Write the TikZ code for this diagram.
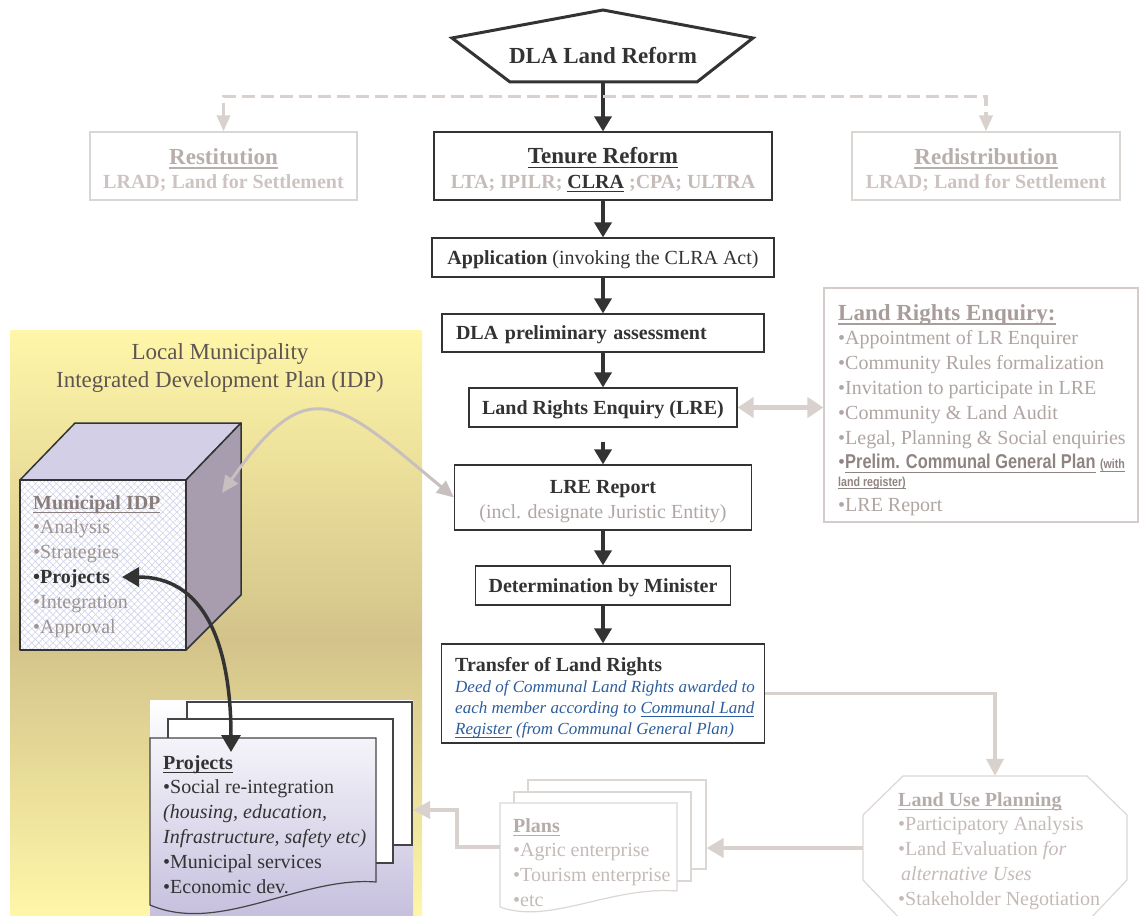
\documentclass[tikz,border=0pt]{standalone}
\usepackage{fontspec}
\setmainfont{Liberation Serif}
\newfontfamily\narrowsf[FakeStretch=0.82]{Liberation Sans}
\newcommand\uline[1]{\leavevmode\setbox0\hbox{#1}\rlap{\rule[-0.2em]{\wd0}{0.07em}}\box0\relax}
\usetikzlibrary{arrows.meta,patterns.meta,calc}
\definecolor{dk}{HTML}{333333}
\definecolor{lbord}{HTML}{DCD6D3}
\definecolor{restT}{HTML}{B8AEAB}
\definecolor{restS}{HTML}{CDC4C1}
\definecolor{tenS}{HTML}{C5BCB9}
\definecolor{lreB}{HTML}{D3CCC9}
\definecolor{lreT}{HTML}{A89D9A}
\definecolor{lreL}{HTML}{AFA5A2}
\definecolor{lreP}{HTML}{8F8482}
\definecolor{gArr}{HTML}{D8D1CE}
\definecolor{curveC}{HTML}{C8BFBF}
\definecolor{ylw}{HTML}{FFF6A8}
\definecolor{khk}{HTML}{D3C38A}
\definecolor{ttl}{HTML}{5E5553}
\definecolor{cubetop}{HTML}{D2CFE6}
\definecolor{cubeside}{HTML}{A79DAF}
\definecolor{hatch}{HTML}{CFD2EA}
\definecolor{idpT}{HTML}{8A7E7C}
\definecolor{idpL}{HTML}{9E9492}
\definecolor{lav}{HTML}{C6C0DE}
\definecolor{blu}{HTML}{2C5E9E}
\definecolor{pageL}{HTML}{444444}
\definecolor{lupB}{HTML}{DDD7D4}
\definecolor{lupT}{HTML}{B6ACA9}
\definecolor{lupL}{HTML}{C4BBB8}
\definecolor{juris}{HTML}{B0A6A3}
\newcommand\fA{\fontsize{20}{24.8}\selectfont}
\newcommand\fB{\fontsize{23}{28}\selectfont}
\newcommand\fC{\fontsize{17}{21}\selectfont}
\begin{document}
\begin{tikzpicture}[x=1pt,y=-1pt,
  box/.style={draw=dk, line width=1.2pt, fill=white, inner sep=0pt, align=center, text=dk, font=\fA},
  one/.style={text height=15pt, text depth=1.8pt},
  lbox/.style={draw=lbord, line width=1.2pt, fill=white, inner sep=0pt, align=center, font=\fA},
  ctxt/.style={inner sep=0pt, align=center, font=\fA},
  flow/.style={draw=dk, line width=3.5pt, -{Triangle[width=17pt,length=15pt]}},
  dashc/.style={draw=gArr, line width=3.5pt, dash pattern=on 13pt off 6pt, {Triangle[width=13pt,length=16pt]}-{Triangle[width=13pt,length=16pt]}},
  garrow/.style={draw=gArr, line width=3.5pt, -{Triangle[width=17pt,length=17pt]}},
  dblg/.style={draw=gArr, line width=5pt, {Triangle[width=20pt,length=16pt]}-{Triangle[width=20pt,length=16pt]}},
  curveg/.style={draw=curveC, line width=3pt, {Triangle[width=15pt,length=17pt]}-{Triangle[width=15pt,length=17pt]}},
  curvek/.style={draw=dk, line width=3.5pt, {Triangle[width=19pt,length=17pt]}-{Triangle[width=19pt,length=17pt]}},
  page/.style={draw=pageL, line width=1.2pt, fill=white, inner sep=0pt},
  lpage/.style={draw=lupB, line width=1.2pt, fill=white, inner sep=0pt},
  txt/.style={anchor=north west, inner sep=0pt, align=left, font=\fA},
  cubeline/.style={draw=dk, line width=1.5pt, line join=round}
]
\useasboundingbox (0,0) rectangle (1139,915);
\fill[white] (0,0) rectangle (1139,915);

% ---------- yellow panel ----------
\shade[top color=ylw, bottom color=khk] (10,330) rectangle (422,640);
\shade[top color=khk, bottom color=ylw] (10,640) rectangle (422,915);
\node[font=\fB, text=ttl, align=center, inner sep=0pt] (lmtitle) at (220,368) {Local Municipality\\Integrated Development Plan (IDP)};

% ---------- cube ----------
\draw[cubeline, fill=cubetop] (20,480) -- (75,423) -- (241,423) -- (186,480) -- cycle;
\draw[cubeline, fill=cubeside] (186,480) -- (241,423) -- (241,595) -- (186,650) -- cycle;
\fill[white] (20,480) rectangle (186,650);
\fill[pattern={Lines[angle=45,distance=5pt,line width=0.6pt]}, pattern color=hatch] (20,480) rectangle (186,650);
\fill[pattern={Lines[angle=-45,distance=5pt,line width=0.6pt]}, pattern color=hatch] (20,480) rectangle (186,650);
\node[cubeline, inner sep=0pt, minimum width=166, minimum height=170] (cubefront) at (103,565) {};
\coordinate (cubeside) at (222,493);
\node[txt, text=idpL] (idptext) at (33,495) {{\bfseries\color{idpT}\uline{Municipal IDP}}\\{\textbullet}Analysis\\{\textbullet}Strategies\\{\color{dk}\bfseries {\textbullet}Projects}\\{\textbullet}Integration\\{\textbullet}Approval};
\coordinate (projbullet) at (122,577);

% ---------- projects stack ----------
\shade[top color=white, bottom color=lav] (150,700) rectangle (413,915);
\node[page, minimum width=225, minimum height=143] (projback) at (299.5,773.5) {};
\node[page, minimum width=225, minimum height=144] (projmid) at (280.5,791) {};
\begin{scope}
  \clip (150,738) -- (376,738) -- (376,882) .. controls (300,876) and (220,935) .. (150,905) -- cycle;
  \shade[top color=white, bottom color=lav] (150,700) rectangle (413,915);
\end{scope}
\draw[draw=pageL, line width=1.2pt] (150,738) -- (376,738) -- (376,882) .. controls (300,876) and (220,935) .. (150,905) -- cycle;
\node[inner sep=0pt, minimum width=226, minimum height=170] (projfront) at (263,823) {};
\coordinate (projtop) at (231,752);
\coordinate (projin) at (413,810);
\node[txt, text=dk] (projtext) at (163,755) {{\bfseries\uline{Projects}}\\{\textbullet}Social re-integration\\\textit{(housing, education,}\\\textit{Infrastructure, safety etc)}\\{\textbullet}Municipal services\\{\textbullet}Economic dev.};

% ---------- plans stack ----------
\node[lpage, minimum width=178, minimum height=89] (plansback) at (617,824.5) {};
\node[lpage, minimum width=177, minimum height=89] (plansmid) at (602.5,836.5) {};
\draw[draw=lupB, line width=1.2pt, fill=white] (500,803) -- (677,803) -- (677,891) .. controls (610,886) and (550,925) .. (500,907) -- cycle;
\node[inner sep=0pt, minimum width=177, minimum height=104] (plansfront) at (588.5,855) {};
\node[txt, text=lupL] (planstext) at (513,818) {{\bfseries\color{lupT}\uline{Plans}}\\{\textbullet}Agric enterprise\\{\textbullet}Tourism enterprise\\{\textbullet}etc};

% ---------- land use planning ----------
\draw[draw=lupB, line width=1.2pt, fill=white] (903,776) -- (1087,776) -- (1127,815) -- (1127,880) -- (1087,922) -- (903,922) -- (863,880) -- (863,815) -- cycle;
\node[inner sep=0pt, minimum width=264, minimum height=144] (lup) at (995,848) {};
\node[txt, text=lupL] (luptext) at (898,792) {{\bfseries\color{lupT}\uline{Land Use Planning}}\\{\textbullet}Participatory Analysis\\{\textbullet}Land Evaluation \textit{for}\\\hspace*{3pt}\textit{alternative Uses}\\{\textbullet}Stakeholder Negotiation};

% ---------- top ----------
\draw[draw=dk, line width=3pt, line join=miter, fill=white] (603,10) -- (753,38) -- (697,82) -- (510,82) -- (452,38) -- cycle;
\node[font=\fB\bfseries, text=dk, inner sep=0pt] (dla) at (603,56) {DLA Land Reform};
\coordinate (dlabot) at (603,82);

\node[box, minimum width=338, minimum height=68] (tenure) at (603,166) {};
\node[ctxt, text=dk] (tenuretxt) at (603,170) {{\fB\bfseries\uline{Tenure Reform}}\\{\bfseries\color{tenS}LTA; IPILR; }{\bfseries\color{dk}\uline{CLRA}}{\bfseries\color{tenS}\ ;CPA; ULTRA}};
\node[lbox, minimum width=267, minimum height=68] (restit) at (223.5,166) {};
\node[ctxt] (restittxt) at (223.5,170) {{\fB\bfseries\color{restT}\uline{Restitution}}\\{\bfseries\color{restS}LRAD; Land for Settlement}};
\node[lbox, minimum width=268, minimum height=68] (redis) at (986,166) {};
\node[ctxt] (redistxt) at (986,170) {{\fB\bfseries\color{restT}\uline{Redistribution}}\\{\bfseries\color{restS}LRAD; Land for Settlement}};

% ---------- main flow ----------
\node[box, one, minimum width=342, minimum height=39] (app) at (603,257.5) {\textbf{Application} (invoking the CLRA Act)};
\node[box, one, text width=294, inner xsep=14pt, align=left, minimum height=38] (prelim) at (603,333) {\bfseries DLA preliminary assessment};
\node[box, one, minimum width=268, minimum height=39] (lre) at (603,407.5) {\bfseries Land Rights Enquiry (LRE)};
\node[box, minimum width=297, minimum height=65] (lrerep) at (603,497.5) {};
\node[ctxt, text=dk] (lrereptxt) at (603,502) {\textbf{LRE Report}\\{\color{juris}(incl. designate Juristic Entity)}};
\node[box, one, minimum width=255, minimum height=39] (det) at (603,585.5) {\bfseries Determination by Minister};
\node[box, minimum width=323, minimum height=99] (transfer) at (603,693.5) {};
\node[txt, font=\fC\itshape, text=blu] (transtext) at (455,657) {{\fA\upshape\bfseries\color{dk}Transfer of Land Rights}\\Deed of Communal Land Rights awarded to\\each member according to \uline{Communal Land}\\\uline{Register} (from Communal General Plan)};

% ---------- LRE box (right) ----------
\node[draw=lreB, line width=1.2pt, fill=white, inner sep=0pt, minimum width=314, minimum height=234] (lrebox) at (981,405) {};
\node[txt, text=lreL] (lretext) at (838,304) {{\fB\bfseries\color{lreT}\uline{Land Rights Enquiry:}}\\{\textbullet}Appointment of LR Enquirer\\{\textbullet}Community Rules formalization\\{\textbullet}Invitation to participate in LRE\\{\textbullet}Community \& Land Audit\\{\textbullet}Legal, Planning \& Social enquiries\\{\color{lreP}{\textbullet}\narrowsf\bfseries\uline{Prelim. Communal General Plan} {\fontsize{13}{15}\selectfont\uline{(with}}}\\[-7pt]{\color{lreP}\narrowsf\bfseries\fontsize{13}{15}\selectfont\uline{land register)}}\\{\textbullet}LRE Report};

% ---------- connectors ----------
\draw[flow] (dlabot) -- (tenure.north);
\draw[flow] (tenure.south) -- (app.north);
\draw[flow] (app.south) -- (prelim.north);
\draw[flow] (prelim.south) -- (lre.north);
\draw[flow, shorten <=14pt] (lre.south) -- (lrerep.north);
\draw[flow] (lrerep.south) -- (det.north);
\draw[flow] (det.south) -- (transfer.north);
\draw[dashc] (restit.north) -- ++(0,-35) -| (redis.north);
\draw[dblg] (lre.east) -- (lre.east -| lrebox.west);
\draw[garrow] (transfer.east) -| (lup.north);
\draw[garrow, line width=4pt, -{Triangle[width=19pt,length=17pt]}] (lup.west) -- (lup.west -| plansback.east);
\draw[garrow] ([yshift=8pt]plansfront.west) -- ++(-43,0) |- (projin);
\draw[curveg] (cubeside) .. controls +(87,-124) and +(-116,-97) .. (lrerep.west);
\draw[curvek] (projbullet) .. controls +(92,0) and +(0,-88) .. (projtop);
\end{tikzpicture}
\end{document}
